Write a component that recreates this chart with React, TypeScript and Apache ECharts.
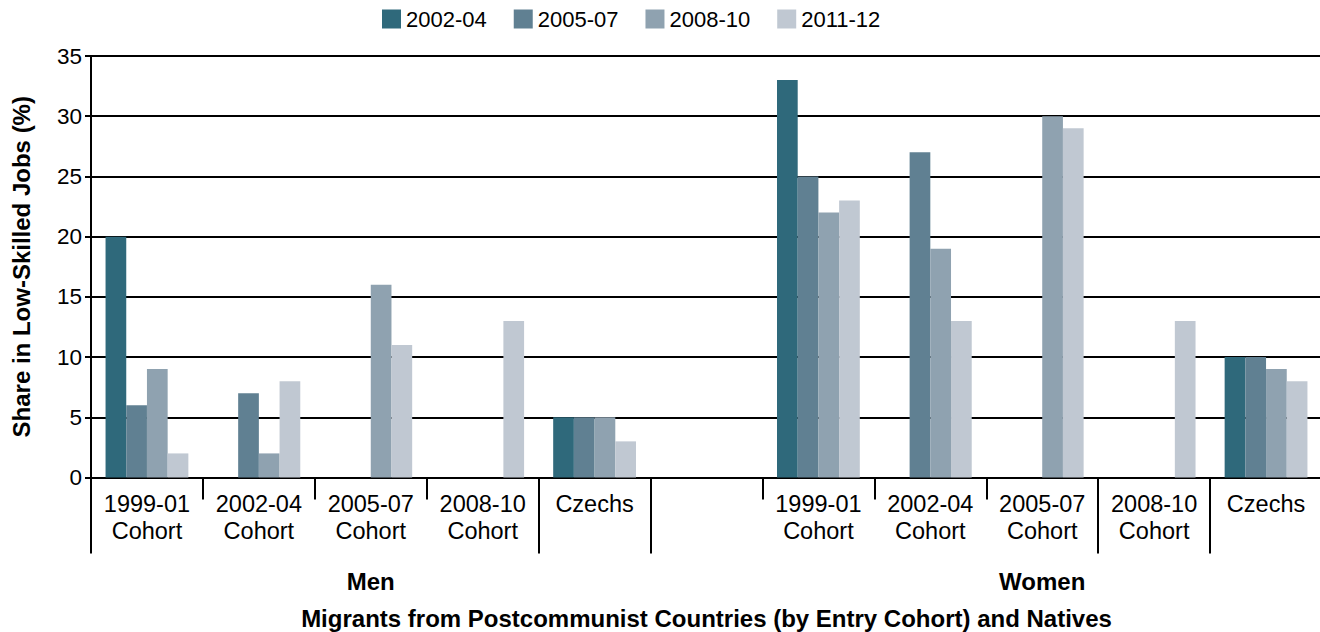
import React, { useEffect, useRef } from "react";
import * as echarts from "echarts";

const categories = [
  "1999-01\nCohort",
  "2002-04\nCohort",
  "2005-07\nCohort",
  "2008-10\nCohort",
  "Czechs",
  "",
  "1999-01\nCohort",
  "2002-04\nCohort",
  "2005-07\nCohort",
  "2008-10\nCohort",
  "Czechs",
];
const groupLabels = ["", "", "Men", "", "", "", "", "", "Women", "", ""];
const longTickIndex = [0, 4, 5, 9, 10];
const seriesNames = ["2002-04", "2005-07", "2008-10", "2011-12"];
const seriesColors = ["#2f697b", "#608092", "#8fa2b0", "#c0c8d2"];
const s2002_04 = [20, null, null, null, 5, null, 33, null, null, null, 10];
const s2005_07 = [6, 7, null, null, 5, null, 25, 27, null, null, 10];
const s2008_10 = [9, 2, 16, null, 5, null, 22, 19, 30, null, 9];
const s2011_12 = [2, 8, 11, 13, 3, null, 23, 13, 29, 13, 8];
const seriesValues = [s2002_04, s2005_07, s2008_10, s2011_12];
const yMin = 0;
const yMax = 35;
const yInterval = 5;

const FONT = "'Liberation Sans', Arial, sans-serif";

export default function App() {
  const ref = useRef<HTMLDivElement>(null);
  useEffect(() => {
    if (!ref.current) return;
    const chart = echarts.init(ref.current, null, { renderer: "svg" });
    chart.setOption({
      animation: false,
      textStyle: { fontFamily: FONT, color: "#000" },
      legend: {
        data: seriesNames,
        icon: "rect",
        itemWidth: 19,
        itemHeight: 19,
        itemGap: 27,
        padding: 0,
        left: 382,
        top: 8,
        textStyle: { fontSize: 22, color: "#000", fontFamily: FONT },
      },
      grid: {
        left: 91,
        right: 1340 - 1322,
        top: 56,
        bottom: 632 - 477.5,
        containLabel: false,
        outerBoundsMode: "none",
      },
      xAxis: [
        {
          type: "category",
          data: categories,
          position: "bottom",
          axisLine: { show: true, lineStyle: { color: "#000", width: 2 } },
          axisTick: { show: true, interval: 0, length: 22, lineStyle: { color: "#000", width: 2 } },
          axisLabel: {
            interval: 0,
            margin: 13,
            fontSize: 23.5,
            lineHeight: 27,
            color: "#000",
            fontFamily: FONT,
          },
          name: "Migrants from Postcommunist Countries (by Entry Cohort) and Natives",
          nameLocation: "middle",
          nameGap: 129,
          nameTextStyle: { fontSize: 24, fontWeight: "bold", color: "#000", fontFamily: FONT },
        },
        {
          type: "category",
          data: categories,
          position: "bottom",
          axisLine: { show: false },
          axisTick: {
            show: true,
            interval: (i: number) => longTickIndex.includes(i),
            length: 76,
            lineStyle: { color: "#000", width: 2 },
          },
          axisLabel: {
            interval: 0,
            margin: 92,
            fontSize: 24,
            fontWeight: "bold",
            color: "#000",
            fontFamily: FONT,
            formatter: (_v: string, i: number) => groupLabels[i],
          },
        },
      ],
      yAxis: {
        type: "value",
        min: yMin,
        max: yMax,
        interval: yInterval,
        axisLine: { show: true, lineStyle: { color: "#000", width: 2 } },
        axisTick: { show: true, length: 6, lineStyle: { color: "#000", width: 2 } },
        axisLabel: { fontSize: 22.5, color: "#000", margin: 9, fontFamily: FONT },
        splitLine: { show: true, lineStyle: { color: "#000", width: 2 } },
        name: "Share in Low-Skilled Jobs (%)",
        nameLocation: "middle",
        nameGap: 58,
        nameTextStyle: { fontSize: 24, fontWeight: "bold", color: "#000", fontFamily: FONT },
      },
      series: seriesNames.map((name, k) => ({
        name,
        type: "bar",
        xAxisIndex: 0,
        data: seriesValues[k],
        barGap: "0%",
        barCategoryGap: "26%",
        itemStyle: { color: seriesColors[k] },
      })),
    });
    return () => chart.dispose();
  }, []);
  return (
    <div
      style={{
        position: "fixed",
        left: 0,
        top: 0,
        width: 1320,
        height: 632,
        overflow: "hidden",
        background: "#fff",
      }}
    >
      <div ref={ref} style={{ width: 1340, height: 632 }} />
    </div>
  );
}
